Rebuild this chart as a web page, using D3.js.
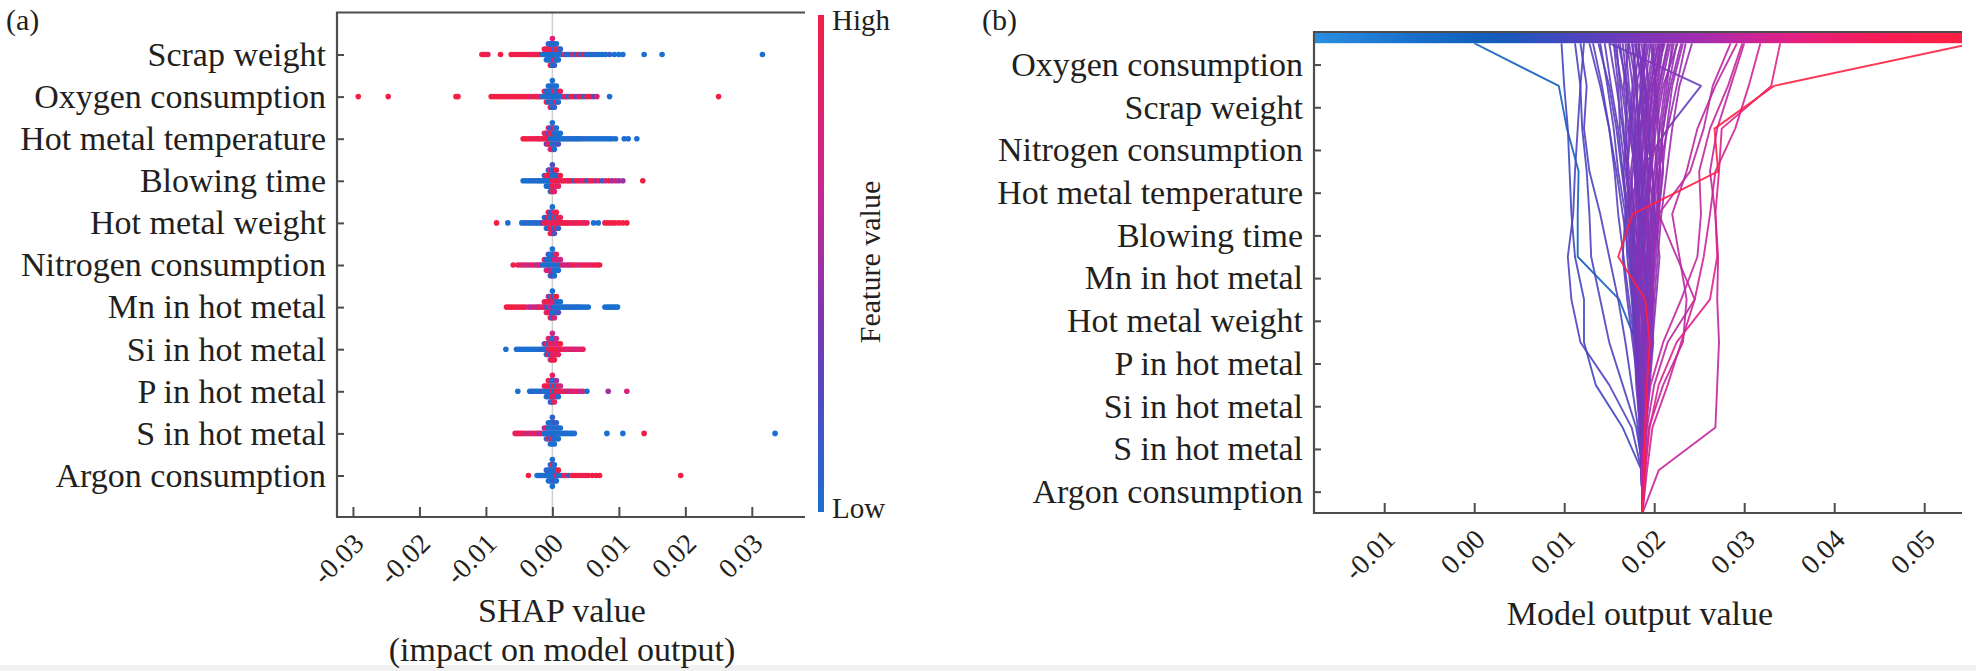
<!DOCTYPE html>
<html lang="en">
<head>
    <meta charset="UTF-8">
    <title>SHAP summary and decision plots</title>

    <script src="https://d3js.org/d3.v7.min.js"></script>

    <style>
        body {
            margin: 0;
            background: #fff;
        }
        svg {
            display: block;
            font-family: "Liberation Serif", "Times New Roman", serif;
        }
    </style>
</head>

<body>
    <svg width="1976" height="671"></svg>

    <script>

        // all SHAP / output values below are in units of 1e-4
        const UNIT = 1e-4;

        // ---------- (a) beeswarm: [SHAP value, feature value 0..1] ----------
        const featuresA = ["Scrap weight", "Oxygen consumption", "Hot metal temperature", "Blowing time",
            "Hot metal weight", "Nitrogen consumption", "Mn in hot metal", "Si in hot metal",
            "P in hot metal", "S in hot metal", "Argon consumption"];

        const scrapWeight = [[-106,1],[-103,1],[-100,1],[-97,0.9],[-78,1],[-62,1],[-58,1],[-54,1],[-50,0.9],[-46,1],[-42,1],[-38,1],[-35,0.8],[-32,1],[-29,1],[-26,0.9],[-23,1],[-20,0.8],
            [-18,1],[-15,0],[-12,0],[-12,1],[-9,0],[-9,0.9],[-9,0],[-6,0],[-6,1],[-6,0],[-6,0.1],[-3,0],[-3,0.9],[-3,0],[-3,0],[-3,1],[0,0],[0,1],[0,0],[0,0.1],[0,0],[0,0.8],
            [3,0],[3,0],[3,0.9],[3,0],[3,0.1],[6,0],[6,1],[6,0],[6,0],[9,0],[9,0.8],[9,0],[12,0],[12,0.1],[15,0],[18,0.9],
            [21,0],[24,0.1],[27,0],[31,0.8],[35,0],[39,1],[43,0],[47,0.9],[51,0.1],[55,0],[59,0],[63,0.1],[67,0],[71,0],[75,0],[80,0],[86,0.1],[93,0],[100,0],[106,0],[138,0],[165,0],[316,0]];
        const oxygenConsumption = [[-292,1],[-247,1],[-145,1],[-142,1],[-92,1],[-88,1],[-84,1],[-80,1],[-76,1],[-72,1],[-68,1],[-64,0.9],[-60,1],[-56,1],[-52,1],[-48,1],[-44,0.9],[-40,1],[-36,1],[-32,0.8],[-28,1],[-24,1],[-21,0.7],
            [-18,1],[-15,0],[-12,0],[-12,0.9],[-9,0],[-9,0],[-9,1],[-6,0],[-6,0.1],[-6,0],[-6,0],[-3,0],[-3,0],[-3,0.2],[-3,0],[-3,0.9],[0,0],[0,0],[0,0],[0,0.1],[0,0],[0,0],
            [3,0],[3,0.9],[3,0],[3,0],[3,0.1],[6,0],[6,0],[6,0.8],[6,0],[9,0],[9,0.1],[9,0],[12,0],[12,0.9],[15,0],[18,0.7],
            [21,1],[24,0],[28,0.9],[32,1],[36,0.2],[40,0.8],[44,1],[48,0],[52,0.9],[57,1],[62,0.2],[67,0.8],[86,0],[250,1]];
        const hotMetalTemperature = [[-44,1],[-40,1],[-36,1],[-32,0.9],[-28,1],[-24,1],[-21,0.8],
            [-18,1],[-15,0.9],[-12,1],[-12,0.8],[-9,1],[-9,0.9],[-9,0.3],[-6,1],[-6,0.2],[-6,0.9],[-6,0.8],[-3,0],[-3,1],[-3,0.9],[-3,0.1],[-3,0.7],[0,0],[0,0.9],[0,0],[0,0.2],[0,1],[0,0],
            [3,0],[3,0],[3,0.1],[3,0.8],[3,0],[6,0],[6,0],[6,0.1],[6,0],[9,0],[9,0],[9,0.2],[12,0],[12,0],[15,0],[18,0],
            [21,0],[24,0],[27,0.1],[30,0],[33,0],[36,0],[39,0],[42,0],[46,0.1],[50,0],[54,0],[58,0],[62,0],[66,0],[70,0],[74,0],[78,0],[82,0],[86,0],[90,0],[95,0],[108,0],[114,0],[127,0]];
        const blowingTime = [[-44,0],[-40,0],[-36,0],[-32,0],[-28,0.1],[-24,0],[-21,0],
            [-18,0],[-15,0],[-12,0],[-12,0.1],[-9,0],[-9,0.9],[-9,0],[-6,0],[-6,1],[-6,0],[-6,0.1],[-3,0],[-3,1],[-3,0],[-3,0.8],[-3,0],[0,1],[0,0],[0,0.9],[0,0],[0,1],[0,0.2],
            [3,0.9],[3,0],[3,1],[3,0.2],[3,0.8],[6,1],[6,0],[6,0.8],[6,1],[9,1],[9,0.1],[9,0.9],[12,0.9],[12,1],[15,1],[18,0.9],
            [22,1],[25,0.8],[28,1],[32,0.1],[36,1],[40,0.9],[44,0.7],[48,1],[52,0.1],[56,0.8],[60,1],[65,0.5],[70,0.9],[75,0.1],[80,0.7],[85,1],[90,0.5],[95,0.8],[100,0.5],[106,0.5],[136,1]];
        const hotMetalWeight = [[-84,1],[-67,0],[-46,0],[-42,0],[-38,0.1],[-34,0],[-30,0],[-26,0.1],[-22,0],
            [-18,0],[-15,0.3],[-12,0.9],[-12,0],[-9,1],[-9,0.2],[-9,0],[-6,0.9],[-6,1],[-6,0.1],[-6,1],[-3,0.8],[-3,0],[-3,1],[-3,0.2],[-3,0.9],[0,1],[0,0],[0,0.9],[0,0.1],[0,1],[0,0],
            [3,0.9],[3,1],[3,0],[3,0.8],[3,0.2],[6,1],[6,0],[6,0.9],[6,1],[9,0.8],[9,1],[9,0.1],[12,1],[12,0.9],[15,1],[18,0.9],
            [21,1],[24,0.9],[28,1],[32,0.8],[36,1],[40,0.9],[44,1],[48,0.8],[52,0.9],[62,0],[69,0],[79,1],[84,1],[89,1],[94,1],[100,1],[106,1],[112,1]];
        const nitrogenConsumption = [[-59,1],[-52,0.8],[-48,1],[-44,0.7],[-40,0.9],[-36,0.6],[-32,0.8],[-28,1],[-24,0.5],[-21,0.8],
            [-18,0.8],[-15,0.1],[-12,0],[-12,0.8],[-9,0],[-9,0.1],[-9,0.7],[-6,0],[-6,0],[-6,0.9],[-6,0.2],[-3,0],[-3,0],[-3,0.5],[-3,0],[-3,0.1],[0,0],[0,0],[0,0.8],[0,0],[0,0.3],[0,0],
            [3,0],[3,0.9],[3,0],[3,0.1],[3,0],[6,0],[6,0.6],[6,0],[6,0.9],[9,0.1],[9,0.8],[9,0],[12,0],[12,0.7],[15,0.9],[18,0.6],
            [22,1],[25,0.6],[28,0.8],[32,1],[36,0.9],[40,0.7],[44,1],[48,0.8],[52,1],[56,0.9],[60,0.8],[64,1],[68,0.9],[71,1]];
        const mnInHotMetal = [[-69,1],[-65,1],[-61,1],[-57,1],[-53,1],[-49,0.9],[-45,1],[-41,1],[-36,0.7],[-32,0.6],[-28,0.8],[-24,0.5],[-21,0.9],
            [-18,0.9],[-15,0.7],[-12,1],[-12,0.9],[-9,0.4],[-9,1],[-9,0.8],[-6,0],[-6,0.9],[-6,1],[-6,0.6],[-3,0.7],[-3,1],[-3,0.8],[-3,0],[-3,0.9],[0,0.5],[0,0.8],[0,0],[0,1],[0,0.1],[0,0],
            [3,0],[3,0.9],[3,0],[3,0],[3,0.8],[6,0],[6,0.1],[6,0],[6,1],[9,0],[9,0],[9,0.2],[12,0],[12,0],[15,0],[18,0],
            [21,0],[24,0],[27,0.1],[30,0],[33,0],[36,0],[39,0],[42,0],[46,0],[50,0],[54,0],[79,0],[83,0],[86,0],[89,0],[92,0],[95,0],[98,0]];
        const siInHotMetal = [[-70,0],[-54,0],[-50,0],[-46,0],[-42,0],[-38,0],[-34,0],[-30,0],[-26,0],[-22,0],
            [-18,0],[-15,0.1],[-12,0],[-12,0.2],[-9,0],[-9,0.9],[-9,0],[-6,0.9],[-6,0],[-6,1],[-6,0.8],[-3,0.8],[-3,1],[-3,0],[-3,0.9],[-3,0.7],[0,1],[0,0.8],[0,0.9],[0,0],[0,1],[0,0.7],
            [3,1],[3,0.9],[3,0.8],[3,0],[3,1],[6,1],[6,0.8],[6,0.9],[6,0.7],[9,1],[9,0.7],[9,0.9],[12,0.8],[12,1],[15,1],[18,0.8],
            [21,0.9],[24,0.7],[27,1],[30,0.8],[33,0.6],[36,0.9],[40,0.8],[43,0.7],[46,0.9]];
        const pInHotMetal = [[-52,0],[-34,0],[-31,0],[-28,0.1],[-25,0],[-22,0],
            [-18,0],[-15,0.2],[-12,0],[-12,0.9],[-9,0],[-9,1],[-9,0.1],[-6,0],[-6,0.9],[-6,0],[-6,1],[-3,0],[-3,1],[-3,0],[-3,0.8],[-3,0.1],[0,0.9],[0,0],[0,1],[0,0],[0,0.1],[0,0.9],
            [3,0],[3,1],[3,0.8],[3,0],[3,0.9],[6,1],[6,0],[6,0.8],[6,0.5],[9,0.9],[9,1],[9,0],[12,1],[12,0.7],[15,0.8],[18,1],
            [21,0.6],[24,0.9],[27,0.5],[30,1],[34,0.7],[38,0.9],[42,0.6],[46,0.8],[52,0],[84,0.5],[112,0.75]];
        const sInHotMetal = [[-56,1],[-53,0.8],[-50,1],[-47,0.9],[-44,0.8],[-40,1],[-36,0.6],[-32,0.9],[-28,0.7],[-24,1],[-21,0.6],
            [-18,0.6],[-15,0.9],[-12,0],[-12,0.5],[-9,0],[-9,0.8],[-9,0],[-6,0],[-6,0],[-6,0.9],[-6,0],[-3,0],[-3,0],[-3,0.1],[-3,0],[-3,0],[0,0],[0,0],[0,0.9],[0,0],[0,0],[0,0.1],
            [3,0],[3,0],[3,0],[3,0.2],[3,0],[6,0],[6,0],[6,0],[6,0.1],[9,0],[9,0.1],[9,0],[12,0],[12,0],[15,0],[18,0],
            [21,0],[24,0],[27,0],[30,0],[33,0],[82,0],[106,0],[138,1],[335,0]];
        const argonConsumption = [[-36,1],[-23,0],[-20,0],[-17,0],[-15,0],
            [-12,0],[-9,0],[-9,0.1],[-6,0],[-6,0],[-6,0],[-3,0],[-3,0.1],[-3,0],[-3,0],[0,0],[0,0],[0,0],[0,0.9],[0,0],[0,0],
            [3,0],[3,0],[3,0.2],[3,0],[6,0.9],[6,0],[6,0],[9,0],[9,1],[12,0],
            [15,0],[18,0.9],[21,1],[25,0.1],[30,1],[34,1],[38,1],[42,1],[46,0.9],[50,1],[54,1],[60,1],[66,1],[71,1],[193,1]];

        const shapPoints = [scrapWeight, oxygenConsumption, hotMetalTemperature, blowingTime, hotMetalWeight,
            nitrogenConsumption, mnInHotMetal, siInHotMetal, pInHotMetal, sInHotMetal, argonConsumption];
        const ticksA = [-0.03, -0.02, -0.01, 0, 0.01, 0.02, 0.03];

        // ---------- (b) decision plot ----------
        const featuresB = ["Oxygen consumption", "Scrap weight", "Nitrogen consumption", "Hot metal temperature",
            "Blowing time", "Mn in hot metal", "Hot metal weight", "P in hot metal", "Si in hot metal",
            "S in hot metal", "Argon consumption"];
        const baseValue = 187;
        // cumulative output after adding Argon, S, Si, P, HMW, Mn, Blowing, HMT, Nitrogen, Scrap, Oxygen
        const decisionPaths = [
            [188,186,185,180,161,115,115,116,103,94,0],
            [186,165,135,122,122,112,108,106,104,100,97],
            [186,175,150,118,108,104,110,112,115,118,122],
            [188,180,165,150,140,130,128,125,120,118,112],
            [186,182,175,168,160,150,140,128,122,125,118],
            [187,186,182,176,170,165,168,185,215,252,150],
            [187,188,186,184,180,176,172,170,165,158,150],
            [188,190,192,195,198,200,205,210,208,214,220],
            [186,184,180,178,175,170,168,160,155,148,140],
            [189,191,194,196,190,186,190,195,200,204,210],
            [187,186,185,188,192,190,185,180,178,182,175],
            [188,189,191,193,195,197,199,205,215,225,235],
            [187,185,182,179,176,174,178,182,175,168,162],
            [186,188,190,188,184,180,176,170,172,176,180],
            [188,187,186,185,190,195,200,198,192,190,196],
            [187,189,193,198,202,206,200,194,188,184,190],
            [189,188,184,180,178,182,186,190,196,205,215],
            [186,185,186,187,185,180,172,165,160,152,145],
            [188,190,189,186,182,178,176,180,186,194,202],
            [187,186,183,180,176,172,165,158,150,142,132],
            [188,189,192,194,196,199,202,206,210,216,225],
            [187,188,187,190,193,190,186,182,185,190,186],
            [186,184,182,181,183,186,190,194,198,202,198],
            [188,190,194,197,200,204,208,214,220,228,242],
            [187,186,184,182,180,178,174,168,162,160,155],
            [189,191,190,188,186,184,182,185,190,196,205],
            [187,188,189,191,188,184,178,172,168,170,165],
            [186,185,184,186,189,192,194,196,194,198,212],
            [188,187,185,183,182,186,188,186,180,176,170],
            [187,189,191,190,186,180,174,170,166,162,158],
            [188,190,193,196,199,196,192,188,194,200,208],
            [187,186,182,178,172,166,160,156,150,140,128],
            [189,190,188,186,188,192,197,203,210,218,230],
            [186,187,189,192,190,187,183,178,174,178,184],
            [188,186,183,186,190,194,190,186,182,186,192],
            [187,188,190,192,194,196,193,190,196,202,196],
            [188,189,187,184,180,176,180,184,178,172,168],
            [187,185,183,182,184,188,192,196,200,208,218],
            [186,188,191,194,197,194,190,186,182,180,176],
            [188,188,186,184,182,180,184,190,196,190,182],
            [187,189,192,190,186,182,178,174,180,186,194],
            [189,187,184,181,178,174,170,164,158,150,138],
            [187,188,190,193,196,200,196,200,206,212,222],
            [188,186,188,190,188,184,186,180,176,170,160],
            [188,190,191,189,186,183,181,178,184,192,200],
            [187,186,188,191,195,199,203,207,204,200,206],
            [186,187,185,182,179,176,173,176,182,188,178],
            [189,188,190,193,191,188,192,197,202,210,226],
            [187,185,184,187,191,189,184,179,172,166,172],
            [188,191,195,199,196,192,188,184,188,194,188],
            [186,184,181,178,181,185,189,193,190,186,180],
            [187,189,188,186,190,194,198,202,206,202,210],
            [188,187,185,182,178,175,172,170,174,180,190],
            [187,190,193,191,189,193,196,192,188,196,204],
            [189,188,186,188,192,197,201,198,194,188,183],
            [186,188,190,194,198,202,206,203,199,206,216],
            [188,186,184,181,177,173,169,166,170,164,156],
            [187,188,191,189,185,181,184,188,192,198,208],
            [186,187,188,190,193,189,185,188,184,180,172],
            [188,190,189,192,196,200,204,209,214,220,232],
            [188,192,200,215,245,225,205,240,255,265,285],
            [186,190,196,210,230,248,252,250,262,282,298],
            [190,194,210,232,236,228,220,236,248,268,292],
            [192,198,215,230,245,255,262,268,290,305,318],
            [205,268,270,272,270,271,268,262,270,285,300],
            [190,195,205,225,262,270,268,272,275,330,340],
            [189,190,192,195,190,160,176,271,267,333,555]
        ];
        const ticksB = [-0.01, 0, 0.01, 0.02, 0.03, 0.04, 0.05];

        // ---------- shared ----------
        const svg = d3.select("svg");
        const textColor = "#231f20";
        const axisColor = "#4d4d4d";

        const dotColor = d3.piecewise(d3.interpolateRgb, ["#1a6fd0", "#6c3cb8", "#cf2590", "#f21e44"]);
        const lineColor = d3.scaleLinear()
            .domain([0, 0.14, 0.28, 0.40, 0.50, 0.60, 0.72, 0.86, 1])
            .range(["#2a8ee0", "#1a72cc", "#0f5cb8", "#4a45c0", "#7a36ba", "#a42cae", "#e0208a", "#f51c5a", "#ff2040"])
            .clamp(true);

        svg.append("rect").attr("width", 1976).attr("height", 671).attr("fill", "#fff");
        svg.append("rect").attr("y", 665).attr("width", 1976).attr("height", 6).attr("fill", "#f1f1f1");

        function styleBottomTicks(g) {
            g.select(".domain").remove();
            g.attr("font-family", null).attr("font-size", null);
            g.selectAll("line").attr("stroke", axisColor).attr("stroke-width", 2);
            g.selectAll("text")
                .attr("font-size", 28)
                .attr("fill", textColor)
                .attr("text-anchor", "end")
                .attr("y", 0)
                .attr("dy", null)
                .attr("transform", "translate(12,28) rotate(-45)");
        }

        function styleLeftTicks(g) {
            g.select(".domain").remove();
            g.attr("font-family", null).attr("font-size", null);
            g.selectAll("line").attr("stroke", axisColor).attr("stroke-width", 2);
            g.selectAll("text").attr("font-size", 34).attr("fill", textColor);
        }

        // ================= panel (a) =================
        const a = { left: 337, right: 805, top: 12.5, bottom: 517 };
        const xA = d3.scaleLinear().domain([-0.0324, 0.038]).range([a.left, a.right]);
        const yA = d3.scalePoint().domain(featuresA).range([54.5, 475.5]);

        const gA = svg.append("g");

        gA.append("line")
            .attr("x1", xA(0)).attr("x2", xA(0))
            .attr("y1", a.top).attr("y2", a.bottom)
            .attr("stroke", "#cfcfcf").attr("stroke-width", 1.5);

        // beeswarm stacking within small bins, alternating above / below the row
        shapPoints.forEach((pts, i) => {
            const bins = new Map();
            const placed = pts.map(([s, f]) => {
                const b = Math.round(s / 3);
                const layer = bins.get(b) || 0;
                bins.set(b, layer + 1);
                return { s: s * UNIT, f: f, lift: Math.ceil(layer / 2) * (layer % 2 ? 1 : -1) };
            });
            const maxLift = d3.max(placed, d => d.lift);

            gA.append("g").selectAll("circle")
                .data(placed)
                .enter()
                .append("circle")
                .attr("cx", d => xA(d.s))
                .attr("cy", d => yA(featuresA[i]) - d.lift * 16 / maxLift)
                .attr("r", 2.8)
                .attr("fill", d => dotColor(d.f));
        });

        gA.append("g")
            .attr("transform", `translate(0,${a.bottom})`)
            .call(d3.axisBottom(xA).tickValues(ticksA).tickSize(-10).tickSizeOuter(0)
                .tickFormat(d => d.toFixed(2)))
            .call(styleBottomTicks);

        gA.append("g")
            .attr("transform", `translate(${a.left},0)`)
            .call(d3.axisLeft(yA).tickSize(-7).tickPadding(11).tickSizeOuter(0))
            .call(styleLeftTicks);

        gA.append("path")
            .attr("d", `M${a.right},${a.top}H${a.left}V${a.bottom}H${a.right}`)
            .attr("fill", "none").attr("stroke", axisColor).attr("stroke-width", 2.2);

        gA.append("text").attr("x", 562).attr("y", 622).attr("text-anchor", "middle")
            .attr("font-size", 34).attr("fill", textColor).text("SHAP value");
        gA.append("text").attr("x", 562).attr("y", 661).attr("text-anchor", "middle")
            .attr("font-size", 34).attr("fill", textColor).text("(impact on model output)");

        gA.append("text").attr("x", 6).attr("y", 30)
            .attr("font-size", 30).attr("fill", textColor).text("(a)");

        // colour bar
        const defs = svg.append("defs");
        const vGrad = defs.append("linearGradient").attr("id", "featureGrad")
            .attr("x1", 0).attr("x2", 0).attr("y1", 1).attr("y2", 0);
        d3.range(0, 1.01, 0.1).forEach(t => {
            vGrad.append("stop").attr("offset", t).attr("stop-color", dotColor(t));
        });
        gA.append("rect").attr("x", 818).attr("y", 15).attr("width", 6).attr("height", 497)
            .attr("fill", "url(#featureGrad)");
        gA.append("text").attr("x", 832).attr("y", 30).attr("font-size", 29)
            .attr("fill", textColor).text("High");
        gA.append("text").attr("x", 832).attr("y", 518).attr("font-size", 29)
            .attr("fill", textColor).text("Low");
        gA.append("text")
            .attr("transform", "translate(880,262) rotate(-90)")
            .attr("text-anchor", "middle").attr("font-size", 30)
            .attr("fill", textColor).text("Feature value");

        // ================= panel (b) =================
        const b = { left: 1314, right: 1962, top: 32, barBottom: 43.2, bottom: 513 };
        const xB = d3.scaleLinear().domain([-0.0178, 0.0542]).range([b.left, b.right]);
        const yLevel = d3.scaleLinear().domain([0, featuresB.length]).range([b.bottom, b.barBottom]);
        const yB = d3.scalePoint().domain(featuresB)
            .range([yLevel(featuresB.length - 0.5), yLevel(0.5)]);

        const gB = svg.append("g");

        const hGrad = defs.append("linearGradient").attr("id", "outputGrad")
            .attr("x1", 0).attr("x2", 1).attr("y1", 0).attr("y2", 0);
        d3.range(0, 1.01, 0.05).forEach(t => {
            hGrad.append("stop").attr("offset", t).attr("stop-color", lineColor(t));
        });

        defs.append("clipPath").attr("id", "clipB")
            .append("rect")
            .attr("x", b.left).attr("y", b.barBottom)
            .attr("width", b.right - b.left).attr("height", b.bottom - b.barBottom);

        const [xMin, xMax] = xB.domain();
        const decisionLine = d3.line()
            .x(d => xB(d * UNIT))
            .y((d, k) => yLevel(k));

        gB.append("g")
            .attr("clip-path", "url(#clipB)")
            .selectAll("path")
            .data(decisionPaths.map(p => [baseValue].concat(p)))
            .enter()
            .append("path")
            .attr("d", decisionLine)
            .attr("fill", "none")
            .attr("stroke", d => lineColor((d[d.length - 1] * UNIT - xMin) / (xMax - xMin)))
            .attr("stroke-width", 1.9)
            .attr("stroke-linejoin", "round")
            .attr("opacity", 0.9);

        gB.append("rect")
            .attr("x", b.left).attr("y", b.top)
            .attr("width", b.right - b.left).attr("height", b.barBottom - b.top)
            .attr("fill", "url(#outputGrad)");

        gB.append("g")
            .attr("transform", `translate(0,${b.bottom})`)
            .call(d3.axisBottom(xB).tickValues(ticksB).tickSize(-10).tickSizeOuter(0)
                .tickFormat(d => d.toFixed(2)))
            .call(styleBottomTicks);

        gB.append("g")
            .attr("transform", `translate(${b.left},0)`)
            .call(d3.axisLeft(yB).tickSize(-7).tickPadding(11).tickSizeOuter(0))
            .call(styleLeftTicks);

        gB.append("path")
            .attr("d", `M${b.right},${b.top}H${b.left}V${b.bottom}H${b.right}`)
            .attr("fill", "none").attr("stroke", axisColor).attr("stroke-width", 2.2);

        gB.append("text").attr("x", 1640).attr("y", 625).attr("text-anchor", "middle")
            .attr("font-size", 34).attr("fill", textColor).text("Model output value");

        gB.append("text").attr("x", 982).attr("y", 30)
            .attr("font-size", 30).attr("fill", textColor).text("(b)");

    </script>
</body>
</html>
